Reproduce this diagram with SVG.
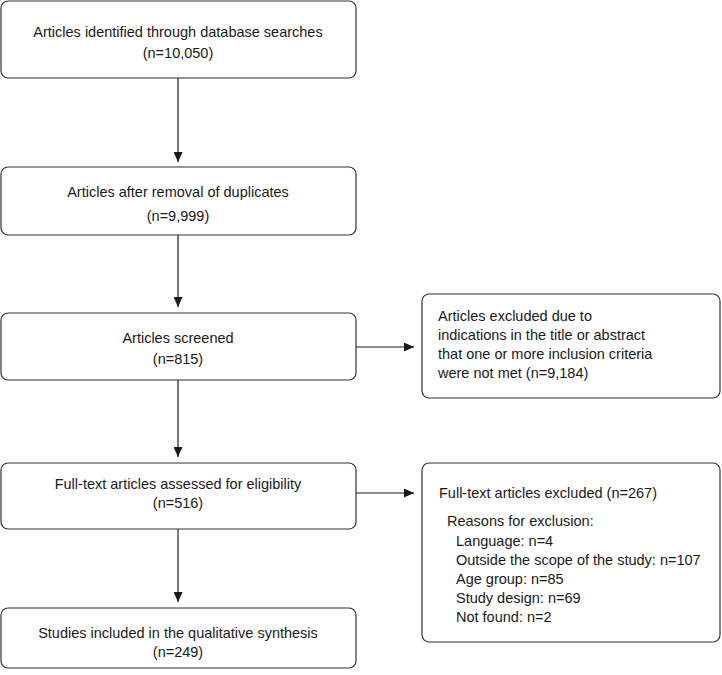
<svg xmlns="http://www.w3.org/2000/svg" width="722" height="675" viewBox="0 0 722 675">
<defs>
<marker id="ah" markerWidth="10" markerHeight="9" refX="10" refY="4.5" orient="auto" markerUnits="userSpaceOnUse">
<path d="M0,0 L10,4.5 L0,9 Z" fill="#1a1a1a"/>
</marker>
<style>
.box{fill:#fff;stroke:#333;stroke-width:1.2}
.t{font-family:"Liberation Sans",Arial,sans-serif;font-size:14.5px;fill:#1a1a1a}
.c{text-anchor:middle}
.ln{stroke:#1a1a1a;stroke-width:1.2;fill:none;marker-end:url(#ah)}
</style>
</defs>
<rect width="722" height="675" fill="#fff"/>
<g id="connectors">
<line class="ln" x1="178" y1="78" x2="178" y2="162"/>
<line class="ln" x1="178" y1="235" x2="178" y2="307"/>
<line class="ln" x1="178" y1="380" x2="178" y2="457"/>
<line class="ln" x1="178" y1="529" x2="178" y2="602"/>
<line class="ln" x1="356" y1="347" x2="414" y2="347"/>
<line class="ln" x1="356" y1="493" x2="414" y2="493"/>
</g>
<g id="n1">
<rect class="box" x="1" y="1" width="355" height="77" rx="7"/>
<text class="t c" x="178" y="37">Articles identified through database searches</text>
<text class="t c" x="178" y="58">(n=10,050)</text>
</g>
<g id="n2">
<rect class="box" x="1" y="167" width="355" height="68" rx="7"/>
<text class="t c" x="178" y="197">Articles after removal of duplicates</text>
<text class="t c" x="178" y="221">(n=9,999)</text>
</g>
<g id="n3">
<rect class="box" x="1" y="313" width="355" height="67" rx="7"/>
<text class="t c" x="178" y="343">Articles screened</text>
<text class="t c" x="178" y="364">(n=815)</text>
</g>
<g id="n4">
<rect class="box" x="1" y="463" width="355" height="66" rx="7"/>
<text class="t c" x="178" y="489">Full-text articles assessed for eligibility</text>
<text class="t c" x="178" y="508">(n=516)</text>
</g>
<g id="n5">
<rect class="box" x="1" y="608" width="355" height="60" rx="7"/>
<text class="t c" x="178" y="638">Studies included in the qualitative synthesis</text>
<text class="t c" x="178" y="657">(n=249)</text>
</g>
<g id="n6">
<rect class="box" x="422" y="294" width="298" height="104" rx="7"/>
<text class="t" x="438" y="321">Articles excluded due to</text>
<text class="t" x="438" y="340">indications in the title or abstract</text>
<text class="t" x="438" y="359">that one or more inclusion criteria</text>
<text class="t" x="438" y="378">were not met (n=9,184)</text>
</g>
<g id="n7">
<rect class="box" x="422" y="463" width="298" height="179" rx="7"/>
<text class="t" x="439" y="498">Full-text articles excluded (n=267)</text>
<text class="t" x="447" y="526">Reasons for exclusion:</text>
<text class="t" x="456" y="546">Language: n=4</text>
<text class="t" x="456" y="565">Outside the scope of the study: n=107</text>
<text class="t" x="456" y="584">Age group: n=85</text>
<text class="t" x="456" y="603">Study design: n=69</text>
<text class="t" x="456" y="622">Not found: n=2</text>
</g>
</svg>
